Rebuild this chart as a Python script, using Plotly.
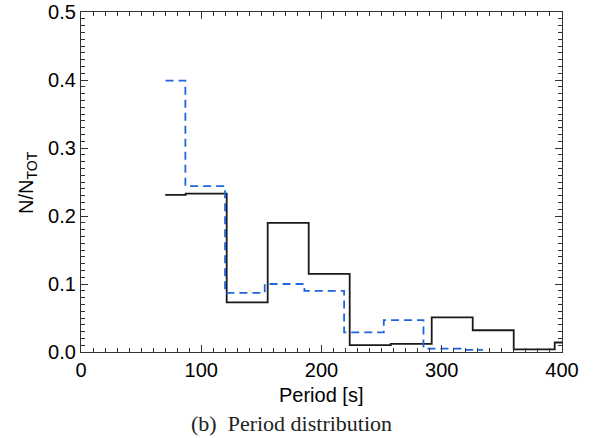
import plotly.graph_objects as go

# Black histogram (bin centres, N/N_TOT)
black_period = [70.0, 104.1, 138.2, 172.3, 206.4, 240.5, 274.6, 308.7, 342.8, 376.9, 411.0]
black_frac = [0.231, 0.233, 0.073, 0.190, 0.115, 0.010, 0.012, 0.051, 0.032, 0.004, 0.014]

# Blue dashed histogram
blue_period = [70.3, 103.3, 136.3, 169.3, 202.3, 235.3, 268.3, 301.3, 334.3]
blue_frac = [0.399, 0.244, 0.087, 0.100, 0.090, 0.029, 0.047, 0.005, 0.003]

x_ticks = [0, 100, 200, 300, 400]
y_ticks = [0.0, 0.1, 0.2, 0.3, 0.4, 0.5]

W, H = 597, 438
L, R, T, B = 81, 35, 12, 86
pw, ph = W - L - R, H - T - B

def px_x(x):
    return (x - L) / pw

def px_y(y):
    return (H - B - y) / ph

fig = go.Figure()
fig.add_trace(go.Scatter(x=black_period, y=black_frac, mode="lines",
                         line=dict(shape="hvh", color="#1a1a1a", width=1.8),
                         showlegend=False))
fig.add_trace(go.Scatter(x=blue_period, y=blue_frac, mode="lines",
                         line=dict(shape="hvh", color="#1f66dc", width=1.8, dash="8px,5px"),
                         showlegend=False))

sans = "Liberation Sans, Arial, Helvetica, sans-serif"
axis_font = dict(family=sans, size=20, color="black")

fig.update_layout(
    width=W, height=H,
    margin=dict(l=L, r=R, t=T, b=B),
    paper_bgcolor="white", plot_bgcolor="white",
    font=axis_font,
    xaxis=dict(range=[0, 400], tickvals=x_ticks, ticktext=[str(v) for v in x_ticks],
               ticks="inside", ticklen=7, tickwidth=1, tickcolor="#333",
               showline=True, linecolor="#333", linewidth=1.2, mirror="ticks",
               showgrid=False, zeroline=False, tickfont=axis_font, automargin=False,
               minor=dict(dtick=10, ticks="inside", ticklen=4, tickcolor="#333", tickwidth=1)),
    yaxis=dict(range=[0, 0.5], tickvals=y_ticks, ticktext=["%.1f" % v for v in y_ticks],
               ticks="inside", ticklen=7, tickwidth=1, tickcolor="#333",
               showline=True, linecolor="#333", linewidth=1.2, mirror="ticks",
               showgrid=False, zeroline=False, tickfont=axis_font, automargin=False,
               minor=dict(dtick=0.01, ticks="inside", ticklen=4, tickcolor="#333", tickwidth=1)),
    annotations=[
        dict(text="Period [s]", x=px_x(321), y=px_y(395), xref="paper", yref="paper",
             showarrow=False, xanchor="center", yanchor="middle",
             font=dict(family=sans, size=20, color="black")),
        dict(text="N/N<sub>TOT</sub>", x=px_x(27), y=px_y(183), xref="paper", yref="paper",
             showarrow=False, xanchor="center", yanchor="middle", textangle=-90,
             font=dict(family=sans, size=20, color="black")),
        dict(text="(b)&nbsp;&nbsp;Period distribution", x=px_x(291), y=px_y(424), xref="paper", yref="paper",
             showarrow=False, xanchor="center", yanchor="middle",
             font=dict(family="Liberation Serif, Times New Roman, serif", size=22, color="#222")),
    ],
)

fig.write_html("out.html", config={"displayModeBar": False},
               post_script="document.body.style.margin='0';document.body.style.overflow='hidden';")
